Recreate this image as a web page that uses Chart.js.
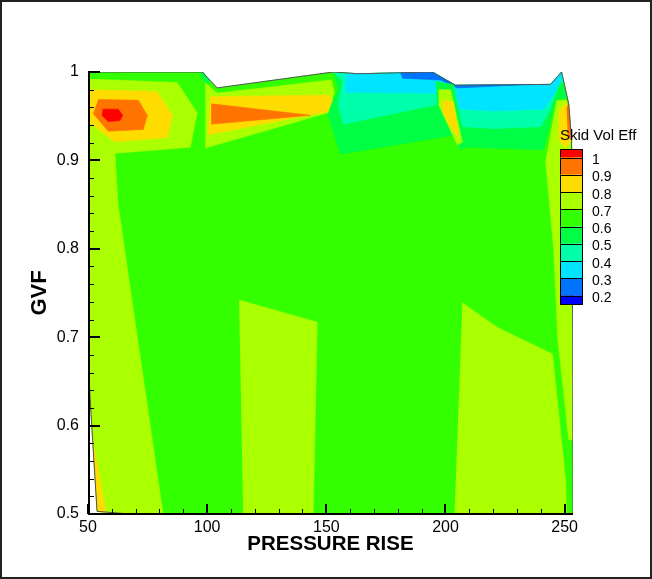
<!DOCTYPE html>
<html>
<head>
<meta charset="utf-8">
<script src="https://cdn.jsdelivr.net/npm/chart.js@4.4.1/dist/chart.umd.min.js"></script>
<style>
  html, body { margin: 0; padding: 0; background: #fff; }
</style>
</head>
<body>
<canvas id="contour" width="652" height="579"></canvas>
<script>
// Skid Vol Eff contour, GVF vs pressure rise
const pressureTicks = [50, 100, 150, 200, 250];
const gvfTicks = [0.5, 0.6, 0.7, 0.8, 0.9, 1];
const levelLabels = ['1', '0.9', '0.8', '0.7', '0.6', '0.5', '0.4', '0.3', '0.2'];
// band colours, highest band (>1) first
const bandColors = ['#ff0000', '#ff7300', '#ffdc00', '#aaff00', '#33ff00', '#00ff44', '#00ffaa', '#00e4ff', '#0073ff', '#0000ff'];

// contour regions as [pressure rise, gvf] outlines
const domainEdge = [[50,1],[97.9,1],[104.2,0.982],[152.9,1],[163.4,0.998],[194.5,1],[204.2,0.985],[244.1,0.986],[248.7,1],[251.7,0.964],[252.9,0.923],[253.4,0.699],[253.5,0.5],[67.6,0.5],[53.8,0.503],[51.7,0.595],[50.2,0.663]];
const ygLeft = [[50,0.992],[87.4,0.988],[95.8,0.954],[92.9,0.915],[61.3,0.908],[62.6,0.85],[81.5,0.5],[67.6,0.5],[53.8,0.503],[51.7,0.595],[50.2,0.663]];
const ygMid = [[113.4,0.742],[146.2,0.717],[144.5,0.5],[115.1,0.5]];
const ygRight = [[207.1,0.739],[221.8,0.711],[244.9,0.681],[250.4,0.538],[250.8,0.5],[203.8,0.5]];
const ygEdge = [[246.6,0.968],[250.8,0.968],[252.9,0.923],[253.4,0.699],[253.4,0.584],[251.7,0.584],[247.1,0.699],[245.4,0.799],[242.0,0.9]];
const greenNotch = [[96.6,1],[98.3,1],[101.3,0.99],[99.6,0.985]];
const greenTop = [[152.9,1],[163.4,0.998],[194.5,1],[204.2,0.985],[244.1,0.986],[248.7,1],[250.8,0.971],[246.2,0.968],[241.2,0.912],[207.1,0.915],[204.6,0.929],[155.9,0.907],[150.4,0.954],[155.0,0.98]];
const aquaTop = [[152.9,1],[163.4,0.998],[194.5,1],[204.2,0.985],[244.1,0.986],[248.7,1],[249.6,0.989],[247.5,0.986],[244.1,0.958],[239.9,0.938],[220.2,0.936],[207.6,0.938],[196.2,0.963],[157.1,0.941],[155.0,0.963],[156.7,0.989]];
const cyanTop = [[158.0,0.998],[163.4,0.998],[194.5,1],[204.2,0.985],[244.1,0.986],[248.7,1],[248.3,0.989],[245.4,0.974],[241.2,0.958],[220.2,0.956],[206.3,0.958],[196.6,0.976],[158.0,0.977]];
const blueTop = [[181.1,0.999],[194.5,1],[204.2,0.985],[235.7,0.986],[205.0,0.982],[197.9,0.991],[181.9,0.993]];
const diamondGreen = [[195.8,0.989],[203.4,0.986],[208.4,0.917],[206.3,0.912],[196.6,0.958]];
const diamondYg = [[197.1,0.98],[202.1,0.98],[207.1,0.921],[205.0,0.917],[197.1,0.963]];
const diamondYellow = [[198.7,0.968],[203.4,0.966],[205.5,0.926],[202.9,0.934],[198.7,0.955]];
const yg2 = [[99.2,0.988],[104.2,0.976],[152.1,0.991],[153.4,0.977],[150.8,0.954],[99.2,0.914]];
const yellow2 = [[101.3,0.972],[150.8,0.974],[152.5,0.968],[150.4,0.955],[138.2,0.949],[100.4,0.929]];
const orange2 = [[101.7,0.964],[143.3,0.951],[101.7,0.941]];
const yellow1 = [[50,0.98],[78.9,0.978],[85.4,0.951],[83.3,0.926],[61.3,0.921],[50,0.944]];
const orange1 = [[54.3,0.969],[71.1,0.968],[74.9,0.951],[73.2,0.935],[58.5,0.933],[52.2,0.953]];
const red1 = [[56.2,0.958],[62.7,0.958],[64.6,0.951],[63.4,0.945],[58.5,0.944],[55.8,0.951]];
const yellowSliver = [[52.0,0.584],[57.6,0.501],[53.8,0.503]];
const edgeYellow = [[247.5,0.955],[250.8,0.966],[252.5,0.923],[250.4,0.914],[247.5,0.923]];
const edgeOrange = [[250.8,0.959],[251.7,0.964],[252.9,0.923],[251.3,0.927]];

// paint order, bottom first; second item is index into bandColors
const layers = [
    [domainEdge, 4],
    [ygLeft, 3], [ygMid, 3], [ygRight, 3], [ygEdge, 3],
    [greenNotch, 5], [greenTop, 5], [aquaTop, 6], [cyanTop, 7], [blueTop, 8],
    [diamondGreen, 5], [diamondYg, 3], [diamondYellow, 2],
    [yg2, 3], [yellow2, 2], [orange2, 1],
    [yellow1, 2], [orange1, 1], [red1, 0],
    [yellowSliver, 2], [edgeYellow, 2], [edgeOrange, 1]
];

const FONT = "'Liberation Sans', Arial, sans-serif";
Chart.defaults.font.family = FONT;
Chart.defaults.color = '#000';

const datasets = layers.map(([pts, c], i) => ({
    data: pts.map(p => ({ x: p[0], y: p[1] })),
    showLine: true,
    fill: 'shape',
    backgroundColor: bandColors[c],
    borderColor: bandColors[c],
    borderWidth: 0.6,
    pointRadius: 0,
    order: layers.length + 1 - i
}));
// zone outline on top
datasets.push({
    data: domainEdge.concat([domainEdge[0]]).map(p => ({ x: p[0], y: p[1] })),
    showLine: true,
    fill: false,
    borderColor: '#555',
    borderWidth: 1,
    pointRadius: 0,
    order: 0
});

const axisTicks = {
    id: 'axisTicks',
    afterDatasetsDraw(chart) {
        const { ctx, chartArea: a, scales: { x, y } } = chart;
        ctx.save();
        ctx.strokeStyle = '#000';
        ctx.lineWidth = 2;
        ctx.beginPath();
        ctx.moveTo(a.left + 1, a.top);
        ctx.lineTo(a.left + 1, a.bottom);
        ctx.lineTo(a.right, a.bottom);
        ctx.stroke();
        // x ticks every 10, major every 50
        for (let i = 0; i < pressureTicks.length; i++) {
            for (let k = 0; k < 5; k++) {
                const v = pressureTicks[i] + k * 10;
                if (v > x.max) break;
                const px = Math.round(x.getPixelForValue(v));
                ctx.lineWidth = k === 0 ? 2 : 1;
                ctx.beginPath();
                ctx.moveTo(px + (k === 0 ? 0 : 0.5), a.bottom);
                ctx.lineTo(px + (k === 0 ? 0 : 0.5), a.bottom - (k === 0 ? 10 : 5));
                ctx.stroke();
            }
        }
        // y ticks every 0.02, major every 0.1
        for (let i = 0; i < gvfTicks.length; i++) {
            for (let k = 0; k < 5; k++) {
                const v = gvfTicks[i] + k * 0.02;
                if (v > y.max + 1e-9) break;
                const py = Math.round(y.getPixelForValue(v));
                ctx.lineWidth = k === 0 ? 2 : 1;
                ctx.beginPath();
                ctx.moveTo(a.left, py + (k === 0 ? 0 : 0.5));
                ctx.lineTo(a.left + (k === 0 ? 12 : 6), py + (k === 0 ? 0 : 0.5));
                ctx.stroke();
            }
        }
        ctx.restore();
    }
};

const contourLegend = {
    id: 'contourLegend',
    afterDraw(chart) {
        const ctx = chart.ctx;
        const left = 560, w = 22, top = 149, step = 17.25, cap = 8.5;
        ctx.save();
        ctx.fillStyle = '#000';
        ctx.font = '15px ' + FONT;
        ctx.textBaseline = 'alphabetic';
        ctx.fillText('Skid Vol Eff', 560, 140);
        let yy = top;
        bandColors.forEach((c, i) => {
            const h = (i === 0 || i === bandColors.length - 1) ? cap : step;
            ctx.fillStyle = c;
            ctx.fillRect(left, yy, w, h);
            ctx.strokeStyle = '#000';
            ctx.lineWidth = 1;
            ctx.strokeRect(left + 0.5, Math.round(yy) + 0.5, w, Math.round(yy + h) - Math.round(yy));
            yy += h;
        });
        ctx.fillStyle = '#000';
        ctx.font = '14px ' + FONT;
        levelLabels.forEach((t, k) => {
            ctx.fillText(t, 592, top + cap + k * step + 6.5);
        });
        // outer frame
        ctx.strokeStyle = '#222';
        ctx.lineWidth = 2;
        ctx.strokeRect(1, 1, 650, 577);
        ctx.restore();
    }
};

new Chart(document.getElementById('contour'), {
    type: 'scatter',
    data: { datasets: datasets },
    options: {
        responsive: false,
        animation: false,
        events: [],
        layout: { padding: { left: 0, top: 72, right: 79, bottom: 0 } },
        plugins: { legend: { display: false }, tooltip: { enabled: false } },
        scales: {
            x: {
                type: 'linear',
                min: 50,
                max: 253.5,
                afterFit: s => { s.height = 65; },
                afterBuildTicks: s => { s.ticks = pressureTicks.map(v => ({ value: v })); },
                grid: { display: false, drawTicks: false },
                border: { display: false },
                ticks: { padding: 4, font: { size: 16 }, color: '#000', maxRotation: 0, callback: v => String(v) },
                title: { display: true, text: 'PRESSURE RISE', color: '#000', font: { size: 20.5, weight: 'bold' }, padding: { top: 0, bottom: 22 } }
            },
            y: {
                type: 'linear',
                min: 0.5,
                max: 1,
                afterFit: s => { s.width = 88; },
                afterBuildTicks: s => { s.ticks = gvfTicks.map(v => ({ value: v })); },
                grid: { display: false, drawTicks: false },
                border: { display: false },
                ticks: { padding: 9, font: { size: 16 }, color: '#000', callback: v => String(v) },
                title: { display: true, text: 'GVF', color: '#000', font: { size: 22, weight: 'bold' }, padding: { top: 27, bottom: 0 } }
            }
        }
    },
    plugins: [axisTicks, contourLegend]
});
</script>
</body>
</html>
